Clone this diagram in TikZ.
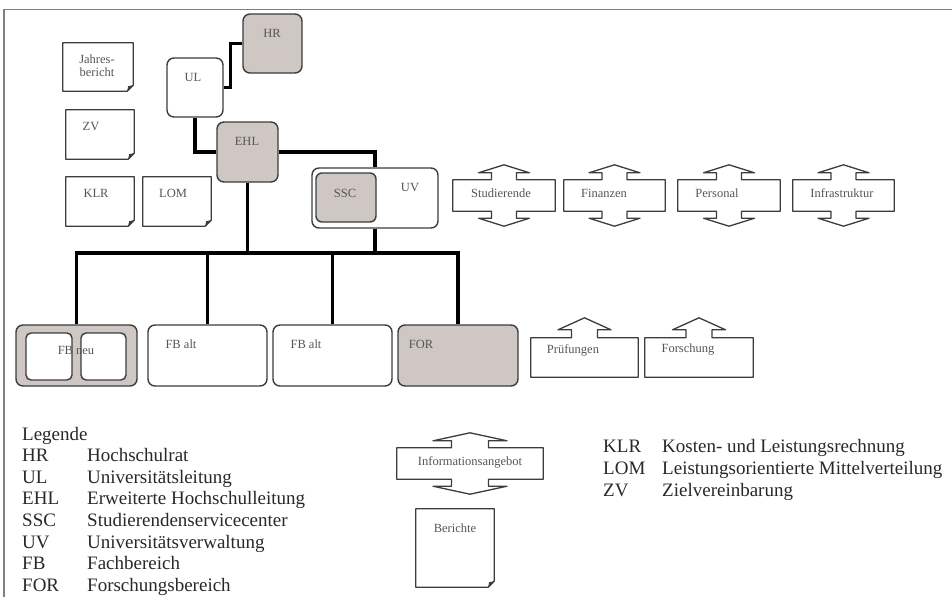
\documentclass[tikz,border=0pt]{standalone}
\usepackage{fontspec}
\setmainfont{Liberation Serif}
\usepackage{tikz}
\usetikzlibrary{calc}

\definecolor{boxgray}{RGB}{206,199,196}
\definecolor{linegray}{RGB}{60,60,60}
\definecolor{textgray}{RGB}{85,85,85}
\definecolor{leggray}{RGB}{40,40,40}
\definecolor{framegray}{RGB}{128,128,128}

\begin{document}
\begin{tikzpicture}[x=1pt,y=-1pt,
  sz/.style 2 args={minimum width=#1pt, minimum height=#2pt},
  orgbox/.style={draw=linegray, line width=1.4pt, rounded corners=7pt, inner sep=0pt, fill=white},
  graybox/.style={orgbox, fill=boxgray},
  conn/.style={line width=3.2pt, black},
  docline/.style={draw=linegray, line width=1.3pt, line join=round, fill=white},
  arrline/.style={draw=linegray, line width=1.3pt, line join=round, fill=white},
  boxtext/.style={text=textgray, font=\fontsize{12.5}{13}\selectfont, inner sep=0pt, align=center},
  legtext/.style={text=leggray, font=\fontsize{19}{20}\selectfont, inner sep=0pt, anchor=base west}]
\useasboundingbox (0,0) rectangle (952,597);
\draw[framegray, line width=1.5pt] (4,597) -- (4,9.5) -- (952,9.5);

\node[graybox, sz={59}{59}] (hr) at (272.5,43.5) {};
\node[orgbox, sz={56}{59}] (ul) at (195,87.5) {};
\node[graybox, sz={61}{60}] (ehl) at (247.5,152) {};
\node[orgbox, sz={126}{60}] (uv) at (375,198) {};
\node[graybox, sz={60}{49}, rounded corners=6pt] (ssc) at (346,197.5) {};

\node[graybox, sz={121}{61}] (fbneu) at (76.5,355.5) {};
\node[orgbox, sz={46}{47}, rounded corners=5pt] (fbin1) at (49,356.5) {};
\node[orgbox, sz={45}{47}, rounded corners=5pt] (fbin2) at (103.5,356.5) {};
\node[orgbox, sz={119}{61}] (fbalt1) at (207.5,355.5) {};
\node[orgbox, sz={119}{61}] (fbalt2) at (332.5,355.5) {};
\node[graybox, sz={120}{61}] (forb) at (458,355.5) {};

\coordinate (bus) at (0,253);
\draw[conn] (ul.east) -- ++(7,0) |- (hr.west);
\draw[conn] (ul.south) |- (ehl.west);
\draw[conn] (ehl.east) -| (uv.north);
\draw[conn] (ehl.south) -- (ehl.south |- bus);
\draw[conn] (uv.south) -- (uv.south |- bus);
\draw[conn] (fbneu.north) -- (fbneu.north |- bus) -- (forb.north |- bus) -- (forb.north);
\foreach \nm in {fbalt1,fbalt2}
  \draw[conn] (\nm.north) -- (\nm.north |- bus);

\foreach \nm/\cx/\cy/\w/\h in {jb/98/67/70/48, zv/100/134.5/68/49, klr/100/201.5/68/49, lom/177/201.5/68/49, ber/455/548/78/78}{
  \node[sz={\w}{\h}, inner sep=0pt] (\nm) at (\cx,\cy) {};
  \draw[docline] (\nm.north west) -- (\nm.north east) -- ([shift={(0,-6)}]\nm.south east)
    -- ([shift={(-6,0)}]\nm.south east) -- (\nm.south west) -- cycle;
  \fill[linegray] ([shift={(0,-6)}]\nm.south east) -- ([shift={(-6,0)}]\nm.south east)
    -- ([shift={(-5,-5)}]\nm.south east) -- cycle;
}

\foreach \nm/\cx/\cy/\w/\sw/\hw in {stud/504/195.5/102/12.5/25.5, fin/614.5/195.5/101/12.5/25.5, pers/729/195.5/102/12.5/25.5, infra/843.5/195.5/101/12.5/25.5, info/470/463.5/146/18.5/37}{
  \node[sz={\w}{31}, inner sep=0pt] (\nm) at (\cx,\cy) {};
  \draw[arrline] (\nm.north west) -- ([shift={(-\sw,0)}]\nm.north) -- ([shift={(-\sw,-7)}]\nm.north)
    -- ([shift={(-\hw,-7)}]\nm.north) -- ([shift={(0,-15)}]\nm.north) -- ([shift={(\hw,-7)}]\nm.north)
    -- ([shift={(\sw,-7)}]\nm.north) -- ([shift={(\sw,0)}]\nm.north) -- (\nm.north east)
    -- (\nm.south east) -- ([shift={(\sw,0)}]\nm.south) -- ([shift={(\sw,7)}]\nm.south)
    -- ([shift={(\hw,7)}]\nm.south) -- ([shift={(0,15)}]\nm.south) -- ([shift={(-\hw,7)}]\nm.south)
    -- ([shift={(-\sw,7)}]\nm.south) -- ([shift={(-\sw,0)}]\nm.south) -- (\nm.south west) -- cycle;
}

\foreach \nm/\cx/\w in {pruef/584.5/107, forsch/699/108}{
  \node[sz={\w}{39}, inner sep=0pt] (\nm) at (\cx,357.5) {};
  \draw[arrline] (\nm.north west) -- ([shift={(-13,0)}]\nm.north) -- ([shift={(-13,-8)}]\nm.north)
    -- ([shift={(-26.5,-8)}]\nm.north) -- ([shift={(0,-20)}]\nm.north) -- ([shift={(26.5,-8)}]\nm.north)
    -- ([shift={(13,-8)}]\nm.north) -- ([shift={(13,0)}]\nm.north) -- (\nm.north east)
    -- (\nm.south east) -- (\nm.south west) -- cycle;
}

\foreach \nm/\x/\y/\t in {hrt/272/33/HR, ult/193/77/UL, ehlt/247/141/EHL, ssct/345/193/SSC, uvt/410/187/UV,
  jbt/97/66/{Jahres-\\bericht}, zvt/91/127/ZV, klrt/96/193/KLR, lomt/173/193/LOM,
  fbneut/76/350/FB neu, fbalt1t/181/344/FB alt, fbalt2t/306/344/FB alt, fort/421/344/FOR,
  studt/501/193/Studierende, fint/604/193/Finanzen, perst/717/193/Personal, infrat/842/193/Infrastruktur,
  prueft/573/350/Prüfungen, forscht/688/350/Forschung, infot/470/462/Informationsangebot, bert/455/528/Berichte}
  \node[boxtext] (\nm) at (\x,\y) {\t};

\node[legtext] (legt) at (22,440) {Legende};
\foreach \ab/\txt [count=\i] in {HR/Hochschulrat, UL/Universitätsleitung, EHL/Erweiterte Hochschulleitung,
  SSC/Studierendenservicecenter, UV/Universitätsverwaltung, FB/Fachbereich, FOR/Forschungsbereich}{
  \node[legtext] (lega\i) at (22,440+21.6*\i) {\ab};
  \node[legtext] (legd\i) at (87,440+21.6*\i) {\txt};
}
\foreach \ab/\txt [count=\i] in {KLR/Kosten- und Leistungsrechnung, LOM/Leistungsorientierte Mittelverteilung, ZV/Zielvereinbarung}{
  \node[legtext] (kza\i) at (603,430+22*\i) {\ab};
  \node[legtext] (kzd\i) at (662,430+22*\i) {\txt};
}
\end{tikzpicture}
\end{document}
